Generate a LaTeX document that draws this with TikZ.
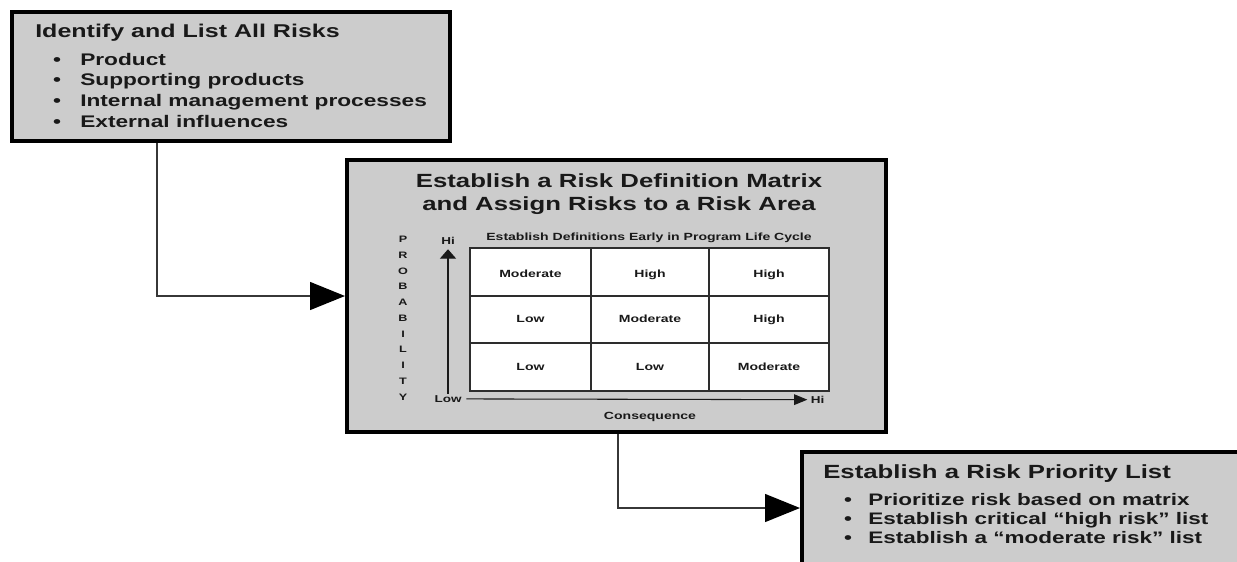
\documentclass[tikz,border=0pt]{standalone}
\usepackage{fontspec}
\newfontfamily\wfont{Liberation Sans}[FakeStretch=1.35]
\usetikzlibrary{arrows.meta,fit}
\definecolor{boxgray}{RGB}{204,204,204}
\definecolor{txtc}{RGB}{25,25,25}
\definecolor{linec}{RGB}{55,55,55}
\definecolor{gridc}{RGB}{45,45,45}
\newcommand\wf[1]{\wfont\bfseries\fontsize{#1}{#1}\selectfont}
\begin{document}
\begin{tikzpicture}[x=0.75pt,y=-0.75pt,
  box/.style={draw=black,line width=3pt,fill=boxgray,inner sep=0pt},
  t/.style={inner sep=0pt,text=txtc},
  conn/.style={draw=linec,line width=1pt,-{Triangle[length=26.25pt,width=21pt,color=black]}},
  grid/.style={draw=gridc,line width=1pt},
  axisline/.style={draw=txtc,line width=0.8pt}]
\useasboundingbox (0,0) rectangle (1237,561);
\clip (0,0) rectangle (1237,561);
\fill[white] (0,0) rectangle (1237,561);

% ---------- Box 1 ----------
\node[box,fit={(12,11.5) (450,141)}] (box1) {};
\node[t,font=\wf{13.9},anchor=base west] (t1) at (35,37.3) {Identify and List All Risks};
\foreach \i/\y/\s in {1/65/Product,2/85.8/Supporting products,3/106.6/Internal management processes,4/127.4/External influences}{
  \node[t,font=\wf{12.6},anchor=base] (d1\i) at (57,\y) {•};
  \node[t,font=\wf{12.6},anchor=base west] (b1\i) at (80,\y) {\s};
}

% ---------- Box 2 ----------
\node[box,fit={(347,160) (886,432)}] (box2) {};
\node[t,font=\wf{14.3},anchor=base] (t2a) at (619,187.3) {Establish a Risk Definition Matrix};
\node[t,font=\wf{14.3},anchor=base] (t2b) at (619,210) {and Assign Risks to a Risk Area};
\node[t,font=\wf{7.8},anchor=base] (sub) at (649,240.7) {Establish Definitions Early in Program Life Cycle};

% matrix
\draw[grid,fill=white] (470,248) rectangle (829,391);
\draw[grid] (591,248) -- (591,391) (709,248) -- (709,391)
            (470,296) -- (829,296) (470,343) -- (829,343);
\foreach \r/\y/\a/\b/\c in {1/277/Moderate/High/High,2/322.7/Low/Moderate/High,3/370/Low/Low/Moderate}{
  \node[t,font=\wf{7.8},anchor=base] (c\r1) at (530.5,\y) {\a};
  \node[t,font=\wf{7.8},anchor=base] (c\r2) at (650,\y) {\b};
  \node[t,font=\wf{7.8},anchor=base] (c\r3) at (769,\y) {\c};
}

% axes
\node[t,font=\wf{7.5},anchor=base] (hitop) at (448,244.3) {Hi};
\node[t,font=\wf{7.5},anchor=base] (lowlbl) at (448,402.3) {Low};
\node[t,font=\wf{7.5},anchor=base west] (hiright) at (810.7,403.3) {Hi};
\node[t,font=\wf{7.8},anchor=base] (cons) at (650,419.3) {Consequence};
\draw[axisline,-{Triangle[length=7pt,width=12pt]},shorten >=3.5pt,shorten <=1pt] (lowlbl.north) -- (hitop.south);
\draw[axisline,-{Triangle[length=10pt,width=8pt]},shorten <=3.5pt,shorten >=2.5pt] (lowlbl.east) -- (hiright.west);
\node[t,font=\wfont\bfseries\fontsize{7}{11.8}\selectfont,align=center,anchor=north] (prob) at (403,236)
  {P\\R\\O\\B\\A\\B\\I\\L\\I\\T\\Y};

% ---------- Box 3 ----------
\node[box,fit={(802,452) (1260,600)}] (box3) {};
\node[t,font=\wf{14.3},anchor=base west] (t3) at (823,478.3) {Establish a Risk Priority List};
\foreach \i/\y/\s in {1/505/Prioritize risk based on matrix,2/524/Establish critical “high risk” list,3/543.3/Establish a “moderate risk” list}{
  \node[t,font=\wf{12.5},anchor=base] (d3\i) at (848,\y) {•};
  \node[t,font=\wf{12.5},anchor=base west] (b3\i) at (868,\y) {\s};
}

% ---------- Connectors ----------
\coordinate (k1) at (157,296);
\coordinate (k2) at (618,508);
\draw[conn] (box1.south -| k1) |- (box2.west |- k1);
\draw[conn] (box2.south -| k2) |- (box3.west |- k2);
\end{tikzpicture}
\end{document}
